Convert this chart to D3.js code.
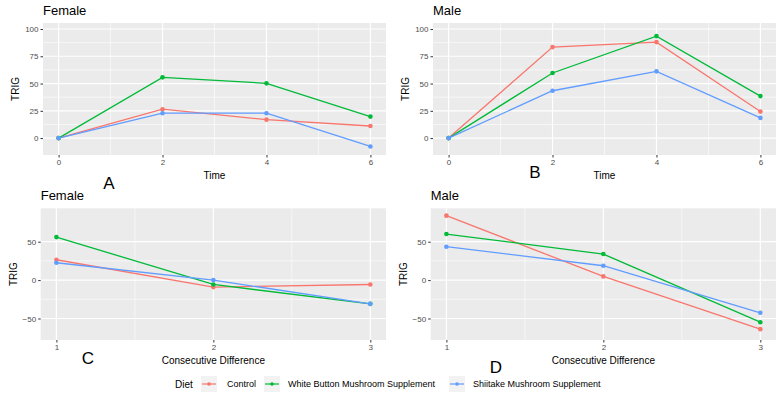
<!DOCTYPE html>
<html>
<head>
<meta charset="utf-8">
<script src="https://cdn.jsdelivr.net/npm/d3@7"></script>
<style>
  body { margin: 0; background: #fff; }
  svg { font-family: "Liberation Sans", Arial, sans-serif; }
</style>
</head>
<body>
<svg id="chart" width="783" height="399"></svg>
<script>
// dados
const diets = ["Control", "White Button Mushroom Supplement", "Shiitake Mushroom Supplement"];
const dietColors = ["#F8766D", "#00BA38", "#619CFF"];

const timePoints = [0, 2, 4, 6];
const timeTicks = [0, 2, 4, 6];
const trigTicksTime = [0, 25, 50, 75, 100];

const femaleControl = [0, 26.5, 16.9, 11.1];
const femaleWhite = [0, 55.7, 50.2, 19.7];
const femaleShiitake = [0, 22.8, 22.8, -7.7];

const maleControl = [0, 83.4, 88, 24.3];
const maleWhite = [0, 59.7, 93.5, 38.5];
const maleShiitake = [0, 43.4, 61.2, 18.5];

const diffPoints = [1, 2, 3];
const diffTicks = [1, 2, 3];
const trigTicksDiff = [-50, 0, 50];

const femaleDiffControl = [26.5, -9.1, -5.7];
const femaleDiffWhite = [56, -5.7, -30.9];
const femaleDiffShiitake = [22.6, 0, -30.9];

const maleDiffControl = [83.9, 4.8, -63.9];
const maleDiffWhite = [60, 33.9, -54.8];
const maleDiffShiitake = [43.5, 18.7, -42.6];

const svg = d3.select("#chart");

function painel(cfg) {
  const x = d3.scaleLinear().domain(cfg.xDomain).range([cfg.left, cfg.right]);
  const y = d3.scaleLinear().domain(cfg.yDomain).range([cfg.bottom, cfg.top]);
  const g = svg.append("g");

  // fundo cinza
  g.append("rect")
    .attr("x", cfg.left).attr("y", cfg.top)
    .attr("width", cfg.right - cfg.left).attr("height", cfg.bottom - cfg.top)
    .attr("fill", "#EBEBEB");

  // grade menor
  const xt = cfg.xTicks;
  const yt = cfg.yTicks;
  const xMinor = xt.slice(0, -1).map((d, i) => (d + xt[i + 1]) / 2);
  const yMinor = yt.slice(0, -1).map((d, i) => (d + yt[i + 1]) / 2);
  g.selectAll(".xminor").data(xMinor).enter().append("line")
    .attr("x1", d => x(d)).attr("x2", d => x(d))
    .attr("y1", cfg.top).attr("y2", cfg.bottom)
    .attr("stroke", "#fff").attr("stroke-width", 0.6);
  g.selectAll(".yminor").data(yMinor).enter().append("line")
    .attr("x1", cfg.left).attr("x2", cfg.right)
    .attr("y1", d => y(d)).attr("y2", d => y(d))
    .attr("stroke", "#fff").attr("stroke-width", 0.6);

  // grade maior
  g.selectAll(".xmajor").data(xt).enter().append("line")
    .attr("x1", d => x(d)).attr("x2", d => x(d))
    .attr("y1", cfg.top).attr("y2", cfg.bottom)
    .attr("stroke", "#fff").attr("stroke-width", 1.2);
  g.selectAll(".ymajor").data(yt).enter().append("line")
    .attr("x1", cfg.left).attr("x2", cfg.right)
    .attr("y1", d => y(d)).attr("y2", d => y(d))
    .attr("stroke", "#fff").attr("stroke-width", 1.2);

  // eixos
  const ax = g.append("g")
    .attr("transform", `translate(0,${cfg.bottom})`)
    .call(d3.axisBottom(x).tickValues(xt).tickFormat(d3.format("d"))
      .tickSize(2.5).tickPadding(2).tickSizeOuter(0));
  const ay = g.append("g")
    .attr("transform", `translate(${cfg.left},0)`)
    .call(d3.axisLeft(y).tickValues(yt).tickFormat(d3.format("d"))
      .tickSize(2.5).tickPadding(2).tickSizeOuter(0));
  [ax, ay].forEach(a => {
    a.select(".domain").remove();
    a.selectAll(".tick line").attr("stroke", "#333333");
    a.selectAll(".tick text").attr("fill", "#4D4D4D").style("font-size", "8px");
  });

  // linhas e pontos
  const line = d3.line().x(d => x(d.x)).y(d => y(d.y));
  cfg.series.forEach((vals, i) => {
    const pts = cfg.xValues.map((xv, j) => ({ x: xv, y: vals[j] }));
    g.append("path").datum(pts)
      .attr("fill", "none")
      .attr("stroke", dietColors[i])
      .attr("stroke-width", 1.3)
      .attr("d", line);
    g.selectAll(null).data(pts).enter().append("circle")
      .attr("cx", d => x(d.x)).attr("cy", d => y(d.y))
      .attr("r", 2.3)
      .attr("fill", dietColors[i]);
  });

  // textos
  g.append("text")
    .attr("x", cfg.left).attr("y", cfg.top - 8)
    .attr("fill", "#000").style("font-size", "13px")
    .text(cfg.title);
  g.append("text")
    .attr("transform", `translate(${cfg.left - 24},${(cfg.top + cfg.bottom) / 2}) rotate(-90)`)
    .attr("text-anchor", "middle")
    .attr("fill", "#000").style("font-size", "10px")
    .text("TRIG");
  g.append("text")
    .attr("x", (cfg.left + cfg.right) / 2).attr("y", cfg.bottom + 24)
    .attr("text-anchor", "middle")
    .attr("fill", "#000").style("font-size", "10px")
    .text(cfg.xLabel);
  g.append("text")
    .attr("x", cfg.letterX).attr("y", cfg.letterY)
    .attr("text-anchor", "middle")
    .attr("fill", "#000").style("font-size", "17px")
    .text(cfg.letter);
}

painel({
  title: "Female", letter: "A", letterX: 109, letterY: 189,
  left: 43, right: 386, top: 23, bottom: 155,
  xDomain: [-0.3, 6.3], yDomain: [-15.5, 105.5],
  xTicks: timeTicks, yTicks: trigTicksTime, xValues: timePoints, xLabel: "Time",
  series: [femaleControl, femaleWhite, femaleShiitake]
});
painel({
  title: "Male", letter: "B", letterX: 535, letterY: 178,
  left: 433, right: 776, top: 23, bottom: 155,
  xDomain: [-0.3, 6.3], yDomain: [-15.5, 105.5],
  xTicks: timeTicks, yTicks: trigTicksTime, xValues: timePoints, xLabel: "Time",
  series: [maleControl, maleWhite, maleShiitake]
});
painel({
  title: "Female", letter: "C", letterX: 88, letterY: 364,
  left: 40.7, right: 386, top: 208.3, bottom: 340,
  xDomain: [0.9, 3.1], yDomain: [-78, 93.5],
  xTicks: diffTicks, yTicks: trigTicksDiff, xValues: diffPoints, xLabel: "Consecutive Difference",
  series: [femaleDiffControl, femaleDiffWhite, femaleDiffShiitake]
});
painel({
  title: "Male", letter: "D", letterX: 496, letterY: 373,
  left: 430.7, right: 776, top: 208.3, bottom: 340,
  xDomain: [0.9, 3.1], yDomain: [-78, 93.5],
  xTicks: diffTicks, yTicks: trigTicksDiff, xValues: diffPoints, xLabel: "Consecutive Difference",
  series: [maleDiffControl, maleDiffWhite, maleDiffShiitake]
});

// legenda
const leg = svg.append("g");
leg.append("text").attr("x", 175).attr("y", 388)
  .style("font-size", "10px").attr("fill", "#000").text("Diet");
const keyX = [201, 264, 449];
const labelX = [227, 288, 473];
diets.forEach((d, i) => {
  const k = leg.append("g").attr("transform", `translate(${keyX[i]},376)`);
  k.append("rect").attr("width", 16).attr("height", 16).attr("fill", "#F2F2F2");
  k.append("line").attr("x1", 1).attr("x2", 15).attr("y1", 8).attr("y2", 8)
    .attr("stroke", dietColors[i]).attr("stroke-width", 1.2);
  k.append("circle").attr("cx", 8).attr("cy", 8).attr("r", 1.8).attr("fill", dietColors[i]);
  leg.append("text").attr("x", labelX[i]).attr("y", 387)
    .style("font-size", "9px").attr("fill", "#000").text(d);
});
</script>
</body>
</html>
